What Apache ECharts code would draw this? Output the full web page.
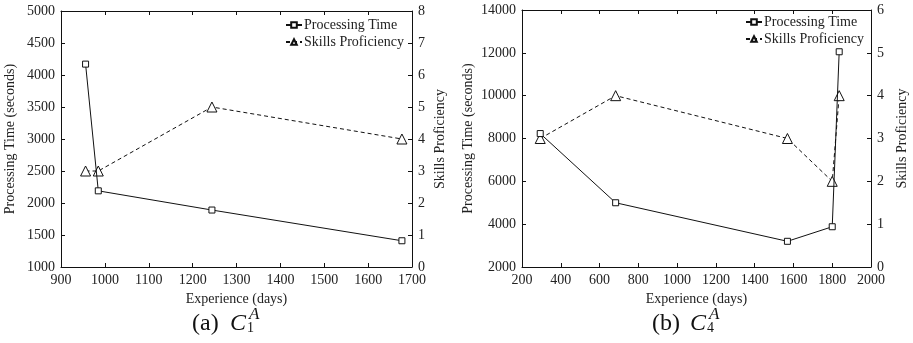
<!DOCTYPE html>
<html>
<head>
<meta charset="utf-8">
<script src="https://cdn.jsdelivr.net/npm/echarts@6/dist/echarts.min.js"></script>
<style>
  html, body { margin: 0; padding: 0; background: #fff; }
  #chart { width: 913px; height: 343px; }
</style>
</head>
<body>
<div id="chart"></div>
<script>
// (a) C1^A
const expA = [956, 985, 1244, 1677];
const timeA = [4170, 2190, 1890, 1410];
const skillA = [3, 3, 5, 4];
// (b) C4^A
const expB = [294, 683, 1569, 1800, 1836];
const timeB = [8230, 5000, 3200, 3880, 12050];
const skillB = [3, 4, 3, 2, 4];

const FONT = "Liberation Serif";
const INK = "#222";

const pairs = (xs, ys) => xs.map((x, i) => [x, ys[i]]);
const plain = (v) => String(v);

const tickStyle = { color: INK, fontFamily: FONT, fontSize: 14, formatter: plain };
const nameStyle = { color: INK, fontFamily: FONT, fontSize: 14 };
const lineStyle = { color: "#111", width: 1 };

function xAxisPair(grid, min, max, step) {
  return [
    {
      gridIndex: grid, type: "value", min, max, interval: step,
      name: "Experience (days)", nameLocation: "middle", nameGap: 21, nameTextStyle: nameStyle,
      axisLine: { lineStyle }, axisTick: { inside: true, length: 4, lineStyle },
      axisLabel: { ...tickStyle, margin: 6 }, splitLine: { show: false },
    },
    {
      gridIndex: grid, type: "value", position: "top", min, max, interval: step,
      axisLine: { lineStyle }, axisTick: { inside: true, length: 4, lineStyle },
      axisLabel: { show: false }, splitLine: { show: false },
    },
  ];
}

function yAxisPair(grid, min, max, step, rmax, gapL, gapR) {
  return [
    {
      gridIndex: grid, type: "value", position: "left", min, max, interval: step,
      name: "Processing Time (seconds)", nameLocation: "middle", nameGap: gapL, nameTextStyle: nameStyle,
      axisLine: { show: true, lineStyle }, axisTick: { inside: true, length: 4, lineStyle },
      axisLabel: { ...tickStyle, margin: 6 }, splitLine: { show: false },
    },
    {
      gridIndex: grid, type: "value", position: "right", min: 0, max: rmax, interval: 1,
      name: "Skills Proficiency", nameLocation: "middle", nameGap: gapR, nameTextStyle: nameStyle,
      axisLine: { show: true, lineStyle }, axisTick: { inside: true, length: 4, lineStyle },
      axisLabel: { ...tickStyle, margin: 6 }, splitLine: { show: false },
    },
  ];
}

function timeSeries(xi, yi, data) {
  return {
    name: "Processing Time", type: "line", xAxisIndex: xi, yAxisIndex: yi,
    data, symbol: "rect", symbolSize: 6, showSymbol: true,
    lineStyle: { color: "#111", width: 1 },
    itemStyle: { color: "#fff", borderColor: "#111", borderWidth: 1 },
    z: 3,
  };
}

function skillSeries(xi, yi, data) {
  return {
    name: "Skills Proficiency", type: "line", xAxisIndex: xi, yAxisIndex: yi,
    data, symbol: "triangle", symbolSize: 10, showSymbol: true,
    lineStyle: { color: "#111", width: 1, type: [4, 3] },
    itemStyle: { color: "#fff", borderColor: "#111", borderWidth: 1 },
    z: 2,
  };
}

function legendAt(left, top) {
  return {
    orient: "vertical", left, top, padding: 0, itemGap: 3, itemWidth: 16, itemHeight: 7,
    textStyle: { color: INK, fontFamily: FONT, fontSize: 14, padding: [0, 0, 0, -3] },
    selectedMode: false,
    data: ["Processing Time", "Skills Proficiency"],
  };
}

// caption "(a) C_1^A" built from separate text pieces
function txt(x, y, text, size, italic) {
  return {
    type: "text", x, y,
    style: {
      text, fill: "#111", font: `${italic ? "italic " : ""}${size}px ${FONT}`,
      verticalAlign: "middle",
    },
  };
}

function caption(x, label, sub) {
  return [
    txt(x, 324, label, 24, false),
    txt(x + 38, 324, "C", 24, true),
    txt(x + 57, 315, "A", 17, true),
    txt(x + 55, 328, sub, 14, false),
  ];
}

const chart = echarts.init(document.getElementById("chart"));
chart.setOption({
  animation: false,
  backgroundColor: "#fff",
  grid: [
    { left: 61, top: 11, width: 351, height: 256 },
    { left: 522, top: 10, width: 349, height: 257 },
  ],
  xAxis: [...xAxisPair(0, 900, 1700, 100), ...xAxisPair(1, 200, 2000, 200)],
  yAxis: [
    ...yAxisPair(0, 1000, 5000, 500, 8, 44, 21),
    ...yAxisPair(1, 2000, 14000, 2000, 6, 47, 24),
  ],
  legend: [legendAt(285, 18), legendAt(745, 15)],
  series: [
    timeSeries(0, 0, pairs(expA, timeA)),
    skillSeries(0, 1, pairs(expA, skillA)),
    timeSeries(2, 2, pairs(expB, timeB)),
    skillSeries(2, 3, pairs(expB, skillB)),
  ],
  graphic: [...caption(192, "(a)", "1"), ...caption(652, "(b)", "4")],
});
</script>
</body>
</html>
